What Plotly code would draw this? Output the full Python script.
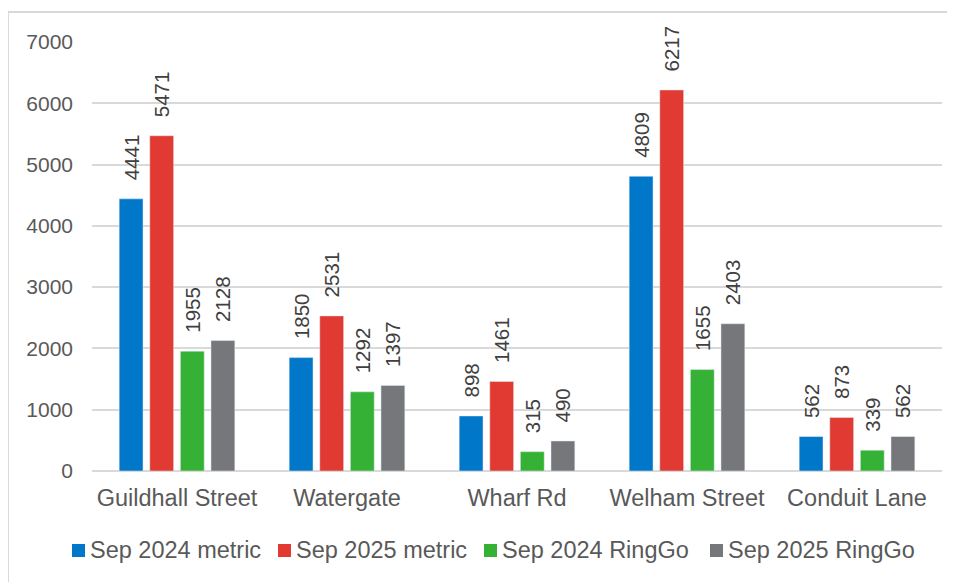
import plotly.graph_objects as go

categories = ["Guildhall Street", "Watergate", "Wharf Rd", "Welham Street", "Conduit Lane"]
series_names = ["Sep 2024 metric", "Sep 2025 metric", "Sep 2024 RingGo", "Sep 2025 RingGo"]
sep2024_metric = [4441, 1850, 898, 4809, 562]
sep2025_metric = [5471, 2531, 1461, 6217, 873]
sep2024_ringgo = [1955, 1292, 315, 1655, 339]
sep2025_ringgo = [2128, 1397, 490, 2403, 562]
y_ticks = [0, 1000, 2000, 3000, 4000, 5000, 6000, 7000]

colors = ["#0077C8", "#E03A33", "#35B235", "#76777B"]
values = [sep2024_metric, sep2025_metric, sep2024_ringgo, sep2025_ringgo]

PAD = "\u00a0\u00a0\u2009"

fig = go.Figure()
for name, vals, col in zip(series_names, values, colors):
    fig.add_trace(go.Bar(
        x=categories, y=vals, name=name, marker_color=col,
        text=[PAD + str(v) for v in vals], textposition="outside", textangle=-90,
        constraintext="none",
        textfont=dict(size=20.5, color="#404040", family="Liberation Sans, Arial"),
        cliponaxis=False, showlegend=False,
    ))

L, T, PW, PH = 84, 34, 850, 429
fig.update_layout(
    width=955, height=582,
    margin=dict(l=L, r=955 - L - PW, t=T, b=582 - T - PH),
    paper_bgcolor="white", plot_bgcolor="white",
    barmode="group", bargap=0.28, bargroupgap=0.22,
    font=dict(family="Liberation Sans, Arial", color="#595959"),
    showlegend=False,
)
fig.update_yaxes(range=[0, 7000], tickvals=y_ticks, showgrid=True, gridcolor="#d9d9d9",
                 gridwidth=1.5, zeroline=True, zerolinecolor="#d9d9d9", zerolinewidth=2,
                 tickfont=dict(size=21, color="#595959"), ticklabelstandoff=18,
                 showline=False)
fig.update_xaxes(tickfont=dict(size=23.5, color="#595959"), ticklabelstandoff=10, showline=False)

def px_x(p):
    return (p - 92) / PW

def px_y(p):
    return (471 - p) / PH

# frame (left and top)
fig.add_shape(type="line", xref="paper", yref="paper", x0=px_x(8), x1=px_x(8), y0=px_y(600), y1=px_y(12),
              line=dict(color="#d9d9d9", width=2))
fig.add_shape(type="line", xref="paper", yref="paper", x0=px_x(8), x1=px_x(970), y0=px_y(12), y1=px_y(12),
              line=dict(color="#d9d9d9", width=2))

# custom legend
legend_marker_x = [72, 278, 484, 710]
for name, col, mx in zip(series_names, colors, legend_marker_x):
    fig.add_shape(type="rect", xref="paper", yref="paper",
                  x0=px_x(mx), x1=px_x(mx + 13), y0=px_y(557), y1=px_y(544),
                  fillcolor=col, line=dict(width=0))
    fig.add_annotation(xref="paper", yref="paper", x=px_x(mx + 16), y=px_y(550),
                       text=name, showarrow=False, xanchor="left", yanchor="middle",
                       font=dict(size=23.5, color="#595959"))

fig.write_html("out.html")
